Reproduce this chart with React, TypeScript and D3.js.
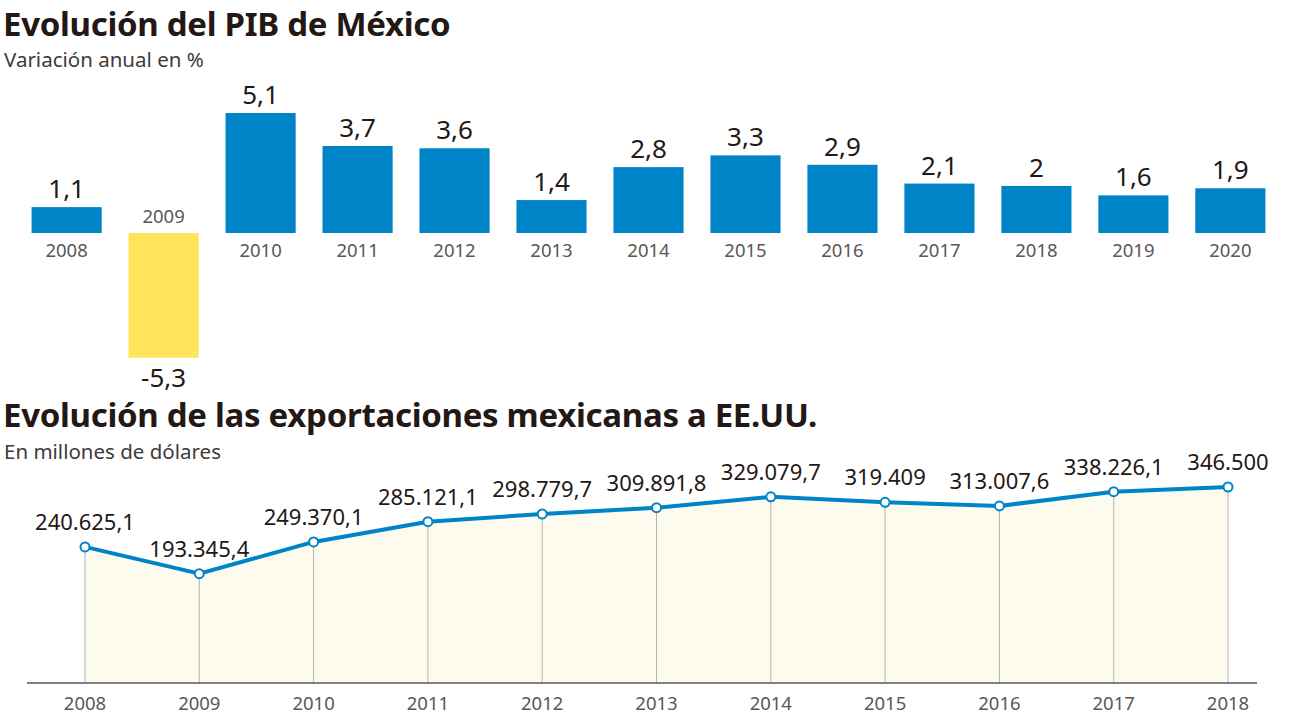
import React from "react";
import * as d3 from "d3";

const gdpYears = ["2008","2009","2010","2011","2012","2013","2014","2015","2016","2017","2018","2019","2020"];
const gdpValues = [1.1,-5.3,5.1,3.7,3.6,1.4,2.8,3.3,2.9,2.1,2,1.6,1.9];
const gdpLabels = ["1,1","-5,3","5,1","3,7","3,6","1,4","2,8","3,3","2,9","2,1","2","1,6","1,9"];

const expYears = ["2008","2009","2010","2011","2012","2013","2014","2015","2016","2017","2018"];
const expValues = [240625.1,193345.4,249370.1,285121.1,298779.7,309891.8,329079.7,319409,313007.6,338226.1,346500];
const expLabels = ["240.625,1","193.345,4","249.370,1","285.121,1","298.779,7","309.891,8","329.079,7","319.409","313.007,6","338.226,1","346.500"];

const FONT = "'Noto Sans', 'Open Sans', sans-serif";
const BLUE = "#0084c8";
const YELLOW = "#ffe45a";

export default function App() {
  const W = 1292, H = 728;
  const xb = d3.scaleBand<string>().domain(gdpYears).range([18, 1279]).paddingInner(0.277).paddingOuter(0.14);
  const yb = d3.scaleLinear().domain([0, 5.1]).range([233, 113]);

  const xl = d3.scalePoint<string>().domain(expYears).range([85, 1228]);
  const yl = d3.scaleLinear().domain([0, 346500]).range([683, 487]);
  const line = d3.line<number>().x((_, i) => xl(expYears[i])!).y(d => yl(d));
  const area = d3.area<number>().x((_, i) => xl(expYears[i])!).y0(yl(0)).y1(d => yl(d));

  return (
    <svg width={W} height={H} style={{ position: "absolute", left: 0, top: 0, background: "#fff" }} fontFamily={FONT}>
      <rect width={W} height={H} fill="#fff" />
      <text x={3} y={36} fontSize={33} fontWeight={700} fill="#231815" letterSpacing={-0.3}>Evolución del PIB de México</text>
      <text x={4} y={67} fontSize={20.5} fill="#3e3a39">Variación anual en %</text>

      {gdpValues.map((v, i) => {
        const x = xb(gdpYears[i])!;
        const w = xb.bandwidth();
        const cx = x + w / 2;
        const neg = v < 0;
        const y0 = yb(0), y1 = yb(v);
        return (
          <g key={gdpYears[i]}>
            <rect x={x} y={Math.min(y0, y1)} width={w} height={Math.abs(y1 - y0)} fill={neg ? YELLOW : BLUE} />
            <text x={cx} y={neg ? y1 + 29 : y1 - 9} textAnchor="middle" fontSize={26} fill="#231815">{gdpLabels[i]}</text>
            <text x={cx} y={neg ? y0 - 10 : y0 + 24} textAnchor="middle" fontSize={18.5} fill="#595757">{gdpYears[i]}</text>
          </g>
        );
      })}

      <text x={3} y={427} fontSize={33} fontWeight={700} fill="#231815" letterSpacing={-0.3}>Evolución de las exportaciones mexicanas a EE.UU.</text>
      <text x={4} y={459} fontSize={20.5} fill="#3e3a39">En millones de dólares</text>

      <path d={area(expValues)!} fill="#fdfaee" />
      {expValues.map((v, i) => (
        <line key={"g" + i} x1={xl(expYears[i])} x2={xl(expYears[i])} y1={yl(v)} y2={yl(0)} stroke="#b5b5b0" strokeWidth={1} />
      ))}
      <line x1={27} x2={1257} y1={yl(0)} y2={yl(0)} stroke="#595757" strokeWidth={1.5} />
      <path d={line(expValues)!} fill="none" stroke={BLUE} strokeWidth={4} strokeLinejoin="round" />
      {expValues.map((v, i) => (
        <circle key={"c" + i} cx={xl(expYears[i])} cy={yl(v)} r={4.5} fill="#fff" stroke={BLUE} strokeWidth={2} />
      ))}
      {expValues.map((v, i) => (
        <text key={"l" + i} x={xl(expYears[i])} y={yl(v) - 17} textAnchor="middle" fontSize={22} fill="#231815">{expLabels[i]}</text>
      ))}
      {expYears.map((y) => (
        <text key={"y" + y} x={xl(y)} y={710} textAnchor="middle" fontSize={18.5} fill="#595757">{y}</text>
      ))}
    </svg>
  );
}
